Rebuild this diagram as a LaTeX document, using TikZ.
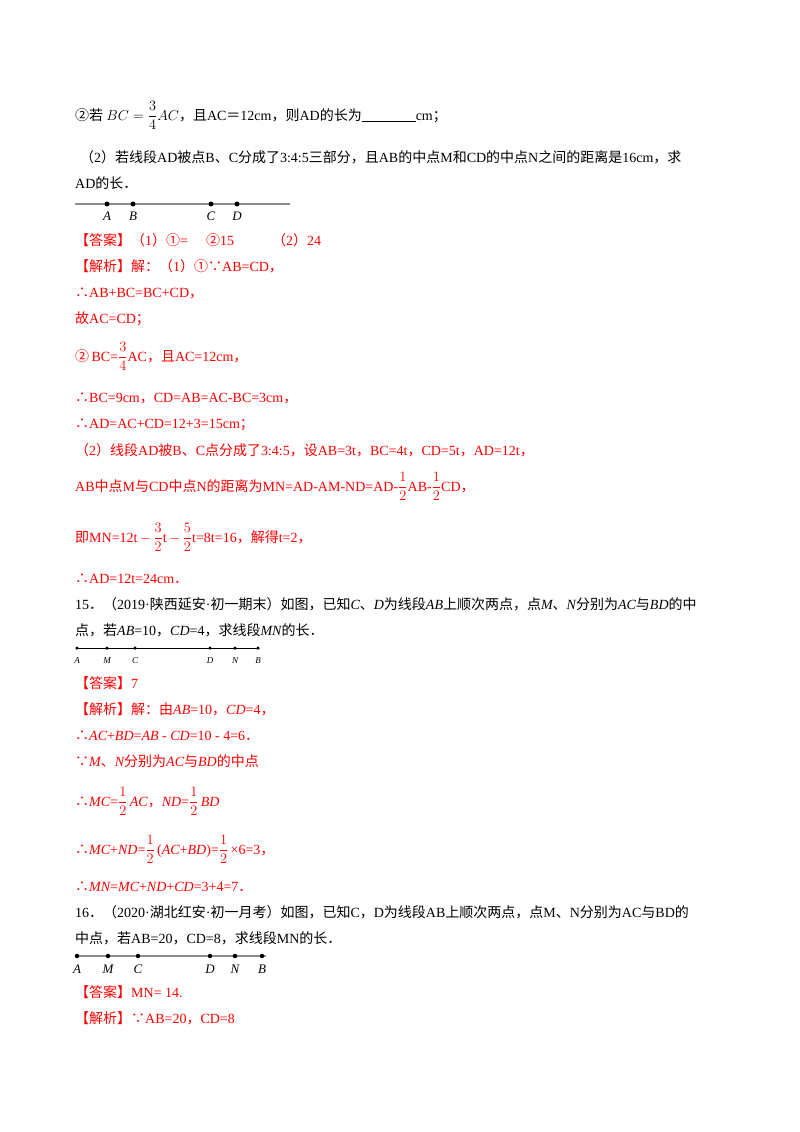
\documentclass[tikz,border=0pt]{standalone}
\usepackage{amsmath}
\usepackage{fontspec}
\setmainfont{Liberation Serif}
\newfontfamily\cjk{Noto Sans CJK SC}
\XeTeXinterchartokenstate=1
\newXeTeXintercharclass\cjkclass
\makeatletter
\count@="3000 \loop\ifnum\count@<"A000 \XeTeXcharclass\count@=\cjkclass \advance\count@ by 1 \repeat
\count@="FF00 \loop\ifnum\count@<"FFF0 \XeTeXcharclass\count@=\cjkclass \advance\count@ by 1 \repeat
\count@="2460 \loop\ifnum\count@<"2480 \XeTeXcharclass\count@=\cjkclass \advance\count@ by 1 \repeat
\makeatother
\XeTeXcharclass"2234=\cjkclass
\XeTeXcharclass"2235=\cjkclass
\XeTeXinterchartoks 0 \cjkclass = {\cjk}
\XeTeXinterchartoks 4095 \cjkclass = {\cjk}
\XeTeXinterchartoks \cjkclass 0 = {\rmfamily}
\XeTeXinterchartoks 4095 0 = {\rmfamily}
\newcommand{\ti}[1]{{\rmfamily\itshape #1}}
\definecolor{ans}{RGB}{255,0,0}
\begin{document}
\begin{tikzpicture}[x=1pt,y=-1pt,
 tx/.style={anchor=base west,inner sep=0pt,font=\fontsize{14}{16}\selectfont},
 rd/.style={tx,text=ans},
 seg/.style={draw=gray!90,line width=1.3pt},
 pt/.style={circle,fill=black,inner sep=0pt,minimum size=5pt},
 lb/.style={font=\fontsize{11}{12}\selectfont\itshape,inner sep=0pt}]
\useasboundingbox (0,0) rectangle (800,1132);
\node[tx] (a1) at (75,120) {②若 $BC=\dfrac{3}{4}AC$，且AC＝12cm，则AD的长为\rule[-2pt]{54pt}{0.8pt}cm；};
\node[tx] (a2) at (80,162) {（2）若线段AD被点B、C分成了3:4:5三部分，且AB的中点M和CD的中点N之间的距离是16cm，求};
\node[tx] (a3) at (75,188) {AD的长．};
\coordinate (l1s) at (75,204); \coordinate (l1e) at (290,204);
\draw[seg] (l1s) -- (l1e);
\foreach \n/\x in {A/107,B/133,C/211,D/237}{\node[pt] (p1\n) at (\x,204) {}; \node[lb,font=\fontsize{13}{14}\selectfont\itshape] at (\x,216) {\n};}
\node[rd] (r1) at (75,245) {【答案】（1）①=\hspace{18pt}②15\hspace{38pt}（2）24};
\node[rd] at (75,271) {【解析】解：（1）①∵AB=CD，};
\node[rd] at (75,297) {∴AB+BC=BC+CD，};
\node[rd] at (75,323) {故AC=CD；};
\node[rd] at (75,361) {②\,\rmfamily BC=$\dfrac{3}{4}$\rmfamily AC，且AC=12cm，};
\node[rd] at (75,402) {∴BC=9cm，CD=AB=AC-BC=3cm，};
\node[rd] at (75,428) {∴AD=AC+CD=12+3=15cm；};
\node[rd] at (75,455) {（2）线段AD被B、C点分成了3:4:5，设AB=3t，BC=4t，CD=5t，AD=12t，};
\node[rd] at (75,491) {AB中点M与CD中点N的距离为MN=AD-AM-ND=AD-$\dfrac{1}{2}$\rmfamily AB-$\dfrac{1}{2}$\rmfamily CD，};
\node[rd] at (75,542) {即MN=12t\,$-\,\dfrac{3}{2}$\rmfamily t\,$-\,\dfrac{5}{2}$\rmfamily t=8t=16，解得t=2，};
\node[rd] at (75,583) {∴AD=12t=24cm．};
\node[tx] at (75,609) {15．（2019·陕西延安·初一期末）如图，已知\ti{C}、\ti{D}为线段\ti{AB}上顺次两点，点\ti{M}、\ti{N}分别为\ti{AC}与\ti{BD}的中};
\node[tx] at (75,635) {点，若\ti{AB}=10，\ti{CD}=4，求线段\ti{MN}的长．};
\draw[line width=0.7pt] (77,648) -- (258,648);
\foreach \n/\x in {A/77,M/107,C/135,D/210,N/235,B/258}{\node[pt,minimum size=3.5pt] at (\x,648) {}; \node[lb,font=\fontsize{9}{10}\selectfont\itshape] at (\x,661) {\n};}
\node[rd] at (75,688) {【答案】7};
\node[rd] at (75,714) {【解析】解：由\ti{AB}=10，\ti{CD}=4，};
\node[rd] at (75,740) {∴\ti{AC}+\ti{BD}=\ti{AB} - \ti{CD}=10 - 4=6．};
\node[rd] at (75,766) {∵\ti{M}、\ti{N}分别为\ti{AC}与\ti{BD}的中点};
\node[rd] at (75,806) {∴\ti{MC}=$\dfrac{1}{2}$\,\ti{AC}，\ti{ND}=$\dfrac{1}{2}$\,\ti{BD}};
\node[rd] at (75,854) {∴\ti{MC}+\ti{ND}=$\dfrac{1}{2}$\,\rmfamily(\ti{AC}+\ti{BD})=$\dfrac{1}{2}$\,\rmfamily ×6=3，};
\node[rd] at (75,891) {∴\ti{MN}=\ti{MC}+\ti{ND}+\ti{CD}=3+4=7．};
\node[tx] at (75,917) {16．（2020·湖北红安·初一月考）如图，已知C，D为线段AB上顺次两点，点M、N分别为AC与BD的};
\node[tx] at (75,943) {中点，若AB=20，CD=8，求线段MN的长．};
\draw[seg,line width=1.1pt] (76,956) -- (266,956);
\foreach \n/\x in {A/77,M/108,C/138,D/210,N/235,B/262}{\node[pt,minimum size=4.5pt] at (\x,956) {}; \node[lb,font=\fontsize{13}{14}\selectfont\itshape] at (\x,969) {\n};}
\node[rd] at (75,997) {【答案】MN= 14.};
\node[rd] at (75,1023) {【解析】∵AB=20，CD=8};
\end{tikzpicture}
\end{document}
